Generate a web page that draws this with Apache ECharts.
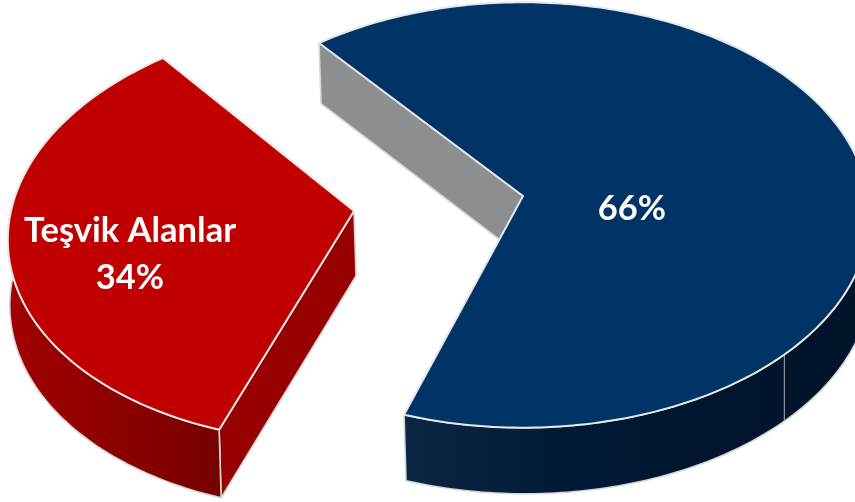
<!DOCTYPE html>
<html>
<head>
<meta charset="utf-8">
<style>html,body{margin:0;padding:0;background:#fff}#c{width:855px;height:502px}</style>
<script src="https://cdn.jsdelivr.net/npm/echarts@6/dist/echarts.min.js"></script>
</head>
<body>
<div id="c"></div>
<script>
const categories = ['Teşvik Alanlar', ''];
const values = [34, 66];

const total = values.reduce((a, b) => a + b, 0);
const START_ANGLE = 198.4;
const looks = [
  { cx: 354, cy: 211, rx: 343, shear: 16, depth: 65, top: '#c00000',
    side: '#960000', wall: ['#a30000', '#760000'], lx: 130, ly: 254 },
  { cx: 523, cy: 196, rx: 345, shear: 0, depth: 63, top: '#003366',
    side: '#8c8f92', wall: ['#0c2645', '#001a36', '#00162e', '#00142a'], lx: 632, ly: 209, seam: 495 }
];
const RY = 211, PERSP = 0.0892;

const chart = echarts.init(document.getElementById('c'), null, { renderer: 'canvas' });

function project(look, deg, drop) {
  const t = deg * Math.PI / 180, u = Math.sin(t), v = Math.cos(t);
  const w = 1 + PERSP * v;
  const x = look.cx + (look.rx * u + look.shear * v) / w;
  const y = look.cy - RY * v / w;
  if (!drop) return [x, y];
  return [x + 2, y + look.depth * (1 - 0.05 * v)];
}
function arc(look, a, b, drop) {
  const pts = [], n = Math.max(2, Math.ceil(Math.abs(b - a)));
  for (let i = 0; i <= n; i++) pts.push(project(look, a + (b - a) * i / n, drop));
  return pts;
}
function visibleRange(a0, a1) {
  for (const k of [0, 360]) {
    const lo = Math.max(a0, 80 + k), hi = Math.min(a1, 280 + k);
    if (lo < hi) return [lo, hi];
  }
  return null;
}

function renderItem(params, api) {
  const i = params.dataIndex, look = looks[i];
  let a0 = START_ANGLE;
  for (let k = 0; k < i; k++) a0 += values[k] / total * 360;
  const share = api.value(0) / total;
  const a1 = a0 + share * 360;
  const edge = { stroke: '#d4d6d8', lineWidth: 1.6, lineJoin: 'round' };
  const children = [];

  const apexT = [look.cx, look.cy], apexB = [look.cx + 2, look.cy + look.depth];
  children.push({ type: 'polygon',
    shape: { points: [apexT, project(look, a0), project(look, a0, true), apexB] },
    style: Object.assign({ fill: look.side }, edge) });

  const r = visibleRange(a0, a1);
  if (r) {
    const stops = look.wall.map((c, j) => ({ offset: j / (look.wall.length - 1), color: c }));
    const pts = arc(look, r[0], r[1], false).concat(arc(look, r[1], r[0], true));
    children.push({ type: 'polygon', shape: { points: pts },
      style: Object.assign({
        fill: new echarts.graphic.LinearGradient(0, 0, 1, 0, stops)
      }, edge) });
  }
  if (look.seam) {
    const p = project(look, look.seam), q = project(look, look.seam, true);
    children.push({ type: 'line',
      shape: { x1: p[0] + 1, y1: p[1], x2: q[0] - 1, y2: q[1] },
      style: { stroke: '#8d949c', lineWidth: 1.2 } });
  }
  children.push({ type: 'polygon',
    shape: { points: [apexT].concat(arc(look, a0, a1, false)) },
    style: Object.assign({ fill: look.top }, edge, { stroke: '#e6e7e8', lineWidth: 2 }) });

  const name = categories[i], pct = Math.round(share * 100) + '%';
  children.push({ type: 'text', x: look.lx, y: look.ly,
    style: { text: name ? name + '\n' + pct : pct, fill: '#fff',
      font: 'bold 34.5px Lato', lineHeight: 47, align: 'center', verticalAlign: 'middle' } });
  return { type: 'group', children };
}

chart.setOption({
  animation: false,
  backgroundColor: '#fff',
  series: [{
    type: 'custom',
    coordinateSystem: 'none',
    renderItem,
    data: values.map((v, i) => ({ name: categories[i], value: [v] }))
  }]
});
</script>
</body>
</html>
